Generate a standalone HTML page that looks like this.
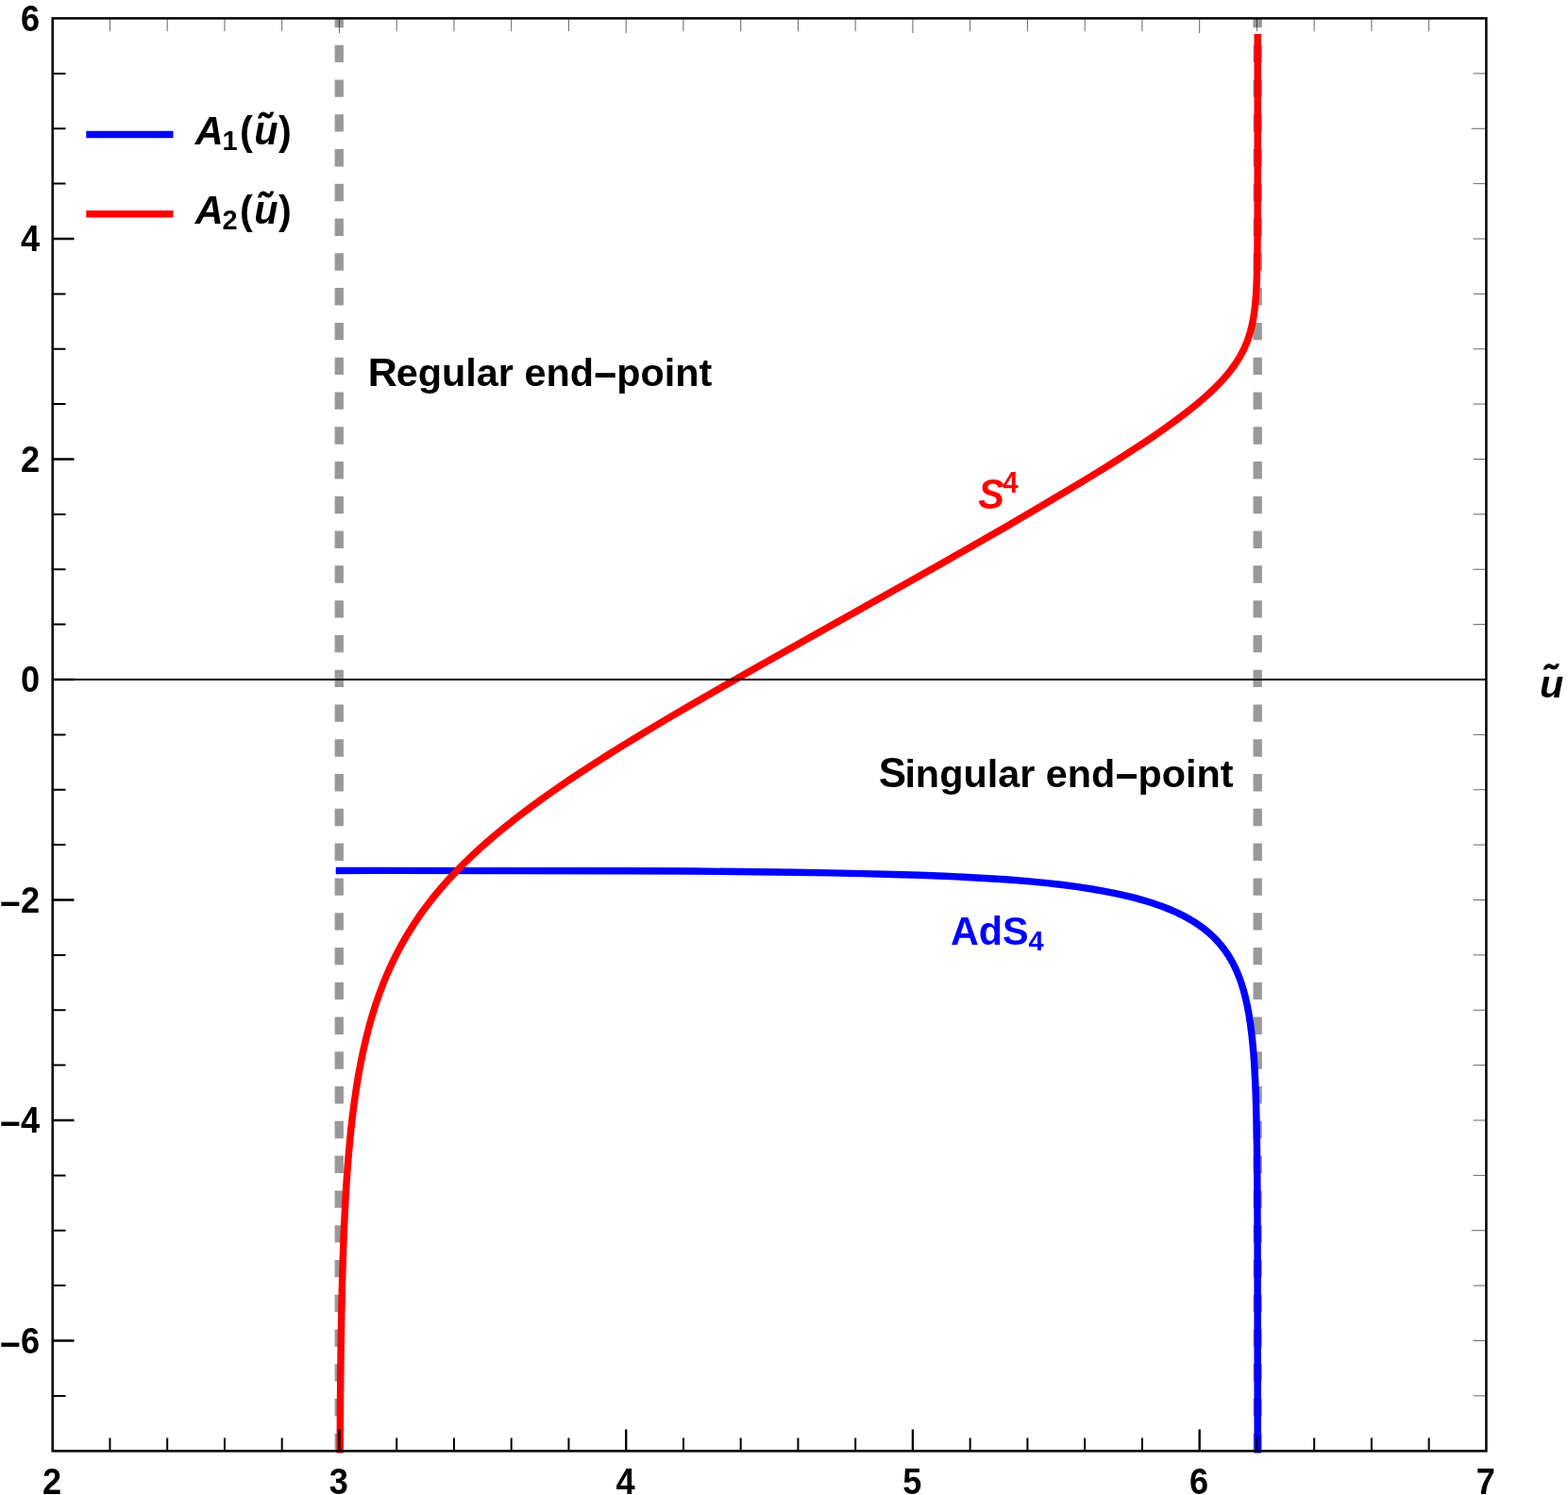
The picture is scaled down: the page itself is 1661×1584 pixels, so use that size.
<!DOCTYPE html>
<html lang="en"><head><meta charset="utf-8"><title>Warp factors A1 and A2</title>
<style>
html,body{margin:0;padding:0;background:#fff;width:1661px;height:1584px;overflow:hidden;}
svg{display:block;}
text{font-family:"Liberation Sans",sans-serif;font-weight:bold;}
.tk{font-size:36.2px;fill:#000;}
.lb{font-size:41.37px;}
.it{font-style:italic;}
</style></head><body>
<svg width="1661" height="1584" viewBox="0 0 1661 1584" role="img" aria-label="Plot of warp factors A1 and A2 versus u-tilde">
<rect x="0" y="0" width="1661" height="1584" fill="#fff"/>
<defs><clipPath id="cp"><rect x="55.7" y="19.4" width="1518.70" height="1520.00"/></clipPath></defs>
<g stroke="#999999" stroke-width="9.3" stroke-dasharray="18.39 18.39" fill="none">
<line x1="359.25" y1="1537.25" x2="359.25" y2="19.40"/>
<line x1="1332.20" y1="1537.25" x2="1332.20" y2="19.40"/>
</g>
<g clip-path="url(#cp)" fill="none" stroke-width="7.45" stroke-linejoin="round" stroke-linecap="square">
<path stroke="#0000ff" d="M359.44,922.53 L402.61,922.39 L506.12,922.62 L662.97,922.74 L732.85,923.07 L799.53,923.70 L840.29,924.24 L878.82,924.89 L914.31,925.62 L945.93,926.42 L974.16,927.30 L1000.32,928.29 L1024.57,929.41 L1047.05,930.66 L1067.89,932.05 L1087.89,933.65 L1106.38,935.40 L1123.47,937.29 L1139.81,939.40 L1155.36,941.74 L1170.12,944.30 L1184.06,947.10 L1190.57,948.55 L1197.18,950.13 L1203.12,951.65 L1209.14,953.30 L1214.88,954.98 L1220.67,956.80 L1226.17,958.66 L1231.40,960.55 L1236.37,962.47 L1241.36,964.54 L1246.08,966.64 L1250.56,968.78 L1254.80,970.94 L1259.03,973.26 L1263.03,975.61 L1267.00,978.11 L1270.39,980.40 L1273.60,982.72 L1276.65,985.07 L1279.68,987.57 L1282.56,990.10 L1285.27,992.65 L1287.96,995.36 L1290.49,998.10 L1292.88,1000.86 L1295.24,1003.79 L1297.46,1006.74 L1299.63,1009.85 L1301.67,1012.99 L1303.66,1016.30 L1305.52,1019.63 L1307.33,1023.13 L1309.02,1026.66 L1310.65,1030.35 L1312.23,1034.21 L1313.69,1038.10 L1315.09,1042.16 L1316.38,1046.24 L1317.66,1050.65 L1318.84,1055.07 L1321.01,1064.44 L1322.93,1074.51 L1324.60,1085.27 L1326.08,1097.02 L1327.18,1107.78 L1328.13,1119.36 L1328.95,1131.77 L1329.65,1145.31 L1330.25,1160.00 L1330.74,1176.29 L1331.14,1194.18 L1331.46,1214.32 L1331.86,1257.81 L1332.08,1316.36 L1332.17,1399.60 L1332.20,1560.00"/>
<path stroke="#ff0000" d="M359.99,1559.85 L360.52,1481.14 L360.88,1447.63 L361.31,1416.95 L361.82,1388.79 L362.42,1362.62 L363.11,1338.29 L363.90,1315.47 L364.81,1293.82 L365.84,1273.34 L366.99,1254.04 L368.28,1235.73 L369.70,1218.43 L371.27,1201.79 L372.99,1185.99 L374.87,1170.86 L376.99,1155.90 L379.31,1141.43 L381.85,1127.46 L384.56,1114.15 L387.48,1101.33 L390.65,1088.84 L394.04,1076.83 L397.68,1065.14 L401.58,1053.76 L405.74,1042.70 L410.18,1031.94 L414.88,1021.48 L419.84,1011.33 L425.15,1001.30 L430.73,991.55 L436.67,981.92 L439.93,976.91 L443.34,971.88 L446.76,967.00 L450.33,962.10 L454.04,957.18 L457.76,952.40 L461.62,947.61 L465.64,942.78 L474.00,933.22 L482.66,923.90 L491.97,914.43 L501.78,905.00 L512.11,895.58 L522.94,886.17 L534.55,876.55 L546.71,866.91 L559.43,857.22 L573.02,847.27 L587.20,837.24 L602.33,826.89 L615.51,818.12 L629.42,809.08 L644.07,799.76 L659.10,790.39 L674.91,780.70 L692.04,770.38 L710.09,759.66 L729.66,748.20 L763.95,728.41 L803.95,705.68 L844.43,682.89 L962.92,616.48 L999.39,595.90 L1032.26,577.20 L1067.15,557.16 L1098.64,538.82 L1126.96,522.06 L1152.86,506.43 L1166.43,498.08 L1178.98,490.25 L1190.97,482.64 L1202.02,475.49 L1212.55,468.54 L1222.53,461.80 L1231.68,455.46 L1240.33,449.31 L1248.47,443.33 L1256.10,437.53 L1263.23,431.91 L1270.04,426.30 L1276.18,421.01 L1281.99,415.74 L1287.33,410.62 L1292.22,405.65 L1296.47,401.03 L1300.45,396.40 L1304.14,391.77 L1307.47,387.23 L1310.53,382.68 L1313.37,378.02 L1315.93,373.36 L1318.26,368.60 L1320.33,363.82 L1322.17,358.93 L1323.82,353.86 L1325.28,348.60 L1326.55,343.15 L1327.66,337.37 L1328.61,331.24 L1329.42,324.71 L1329.97,319.17 L1330.44,313.26 L1331.17,300.04 L1331.66,284.20 L1331.96,264.10 L1332.11,241.90 L1332.17,210.15 L1332.20,39.70"/>
</g>
<line x1="55.7" y1="720.0" x2="1574.4" y2="720.0" stroke="#000" stroke-width="2.2"/>
<path d="M359.44,1537.4V1514.60M663.18,1537.4V1514.60M966.92,1537.4V1514.60M1270.66,1537.4V1514.60M55.7,1420.50H78.50M55.7,1187.00H78.50M55.7,953.50H78.50M55.7,720.00H78.50M55.7,486.50H78.50M55.7,253.00H78.50" stroke="#000" stroke-width="2.4" fill="none"/>
<path d="M116.45,1537.4V1523.60M177.20,1537.4V1523.60M237.94,1537.4V1523.60M298.69,1537.4V1523.60M420.19,1537.4V1523.60M480.94,1537.4V1523.60M541.68,1537.4V1523.60M602.43,1537.4V1523.60M723.93,1537.4V1523.60M784.68,1537.4V1523.60M845.42,1537.4V1523.60M906.17,1537.4V1523.60M1027.67,1537.4V1523.60M1088.42,1537.4V1523.60M1149.16,1537.4V1523.60M1209.91,1537.4V1523.60M1331.41,1537.4V1523.60M1392.16,1537.4V1523.60M1452.90,1537.4V1523.60M1513.65,1537.4V1523.60M55.7,1478.88H69.50M55.7,1362.12H69.50M55.7,1303.75H69.50M55.7,1245.38H69.50M55.7,1128.62H69.50M55.7,1070.25H69.50M55.7,1011.88H69.50M55.7,895.12H69.50M55.7,836.75H69.50M55.7,778.38H69.50M55.7,661.62H69.50M55.7,603.25H69.50M55.7,544.88H69.50M55.7,428.12H69.50M55.7,369.75H69.50M55.7,311.38H69.50M55.7,194.62H69.50M55.7,136.25H69.50M55.7,77.88H69.50" stroke="#000" stroke-width="2.0" fill="none"/>
<path d="M116.45,19.4V33.20M177.20,19.4V33.20M237.94,19.4V33.20M298.69,19.4V33.20M359.44,19.4V35.10M420.19,19.4V33.20M480.94,19.4V33.20M541.68,19.4V33.20M602.43,19.4V33.20M663.18,19.4V35.10M723.93,19.4V33.20M784.68,19.4V33.20M845.42,19.4V33.20M906.17,19.4V33.20M966.92,19.4V35.10M1027.67,19.4V33.20M1088.42,19.4V33.20M1149.16,19.4V33.20M1209.91,19.4V33.20M1270.66,19.4V35.10M1331.41,19.4V33.20M1392.16,19.4V33.20M1452.90,19.4V33.20M1513.65,19.4V33.20M1574.4,1478.88H1560.60M1574.4,1420.50H1560.60M1574.4,1362.12H1560.60M1574.4,1303.75H1558.70M1574.4,1245.38H1560.60M1574.4,1187.00H1560.60M1574.4,1128.62H1560.60M1574.4,1070.25H1560.60M1574.4,1011.88H1560.60M1574.4,953.50H1560.60M1574.4,895.12H1560.60M1574.4,836.75H1560.60M1574.4,778.38H1560.60M1574.4,720.00H1558.70M1574.4,661.62H1560.60M1574.4,603.25H1560.60M1574.4,544.88H1560.60M1574.4,486.50H1560.60M1574.4,428.12H1560.60M1574.4,369.75H1560.60M1574.4,311.38H1560.60M1574.4,253.00H1560.60M1574.4,194.62H1560.60M1574.4,136.25H1558.70M1574.4,77.88H1560.60" stroke="#000" stroke-width="0.6" fill="none"/>
<rect x="55.7" y="19.4" width="1518.70" height="1518.00" fill="none" stroke="#000" stroke-width="2.5"/>
<text class="tk" text-anchor="middle" transform="translate(0,1582.70) scale(1,1.05)"><tspan x="55.20" y="0.00">2</tspan></text>
<text class="tk" text-anchor="middle" transform="translate(0,1582.70) scale(1,1.05)"><tspan x="358.94" y="0.00">3</tspan></text>
<text class="tk" text-anchor="middle" transform="translate(0,1582.70) scale(1,1.05)"><tspan x="662.68" y="0.00">4</tspan></text>
<text class="tk" text-anchor="middle" transform="translate(0,1582.70) scale(1,1.05)"><tspan x="966.42" y="0.00">5</tspan></text>
<text class="tk" text-anchor="middle" transform="translate(0,1582.70) scale(1,1.05)"><tspan x="1270.16" y="0.00">6</tspan></text>
<text class="tk" text-anchor="middle" transform="translate(0,1582.70) scale(1,1.05)"><tspan x="1573.90" y="0.00">7</tspan></text>
<text class="tk" transform="translate(0,32.80) scale(1,1.05)"><tspan x="21.97" y="0.00">6</tspan></text>
<text class="tk" transform="translate(0,266.30) scale(1,1.05)"><tspan x="21.97" y="0.00">4</tspan></text>
<text class="tk" transform="translate(0,499.80) scale(1,1.05)"><tspan x="21.97" y="0.00">2</tspan></text>
<text class="tk" transform="translate(0,733.30) scale(1,1.05)"><tspan x="21.97" y="0.00">0</tspan></text>
<text class="tk" transform="translate(0,966.80) scale(1,1.05)"><tspan x="-0.60" y="3.62" font-size="38.0">−</tspan><tspan x="21.97" y="0.00">2</tspan></text>
<text class="tk" transform="translate(0,1200.30) scale(1,1.05)"><tspan x="-0.60" y="3.62" font-size="38.0">−</tspan><tspan x="21.97" y="0.00">4</tspan></text>
<text class="tk" transform="translate(0,1433.80) scale(1,1.05)"><tspan x="-0.60" y="3.62" font-size="38.0">−</tspan><tspan x="21.97" y="0.00">6</tspan></text>
<text class="lb"><tspan x="1630.90" y="738.90" class="it">u</tspan><tspan x="1655.14" y="742.16" font-size="42.4" class="it" stroke="#000" stroke-width="0.9">̃</tspan></text>
<path d="M91.3,142.4H183.5" stroke="#0000ff" stroke-width="7.45" fill="none"/>
<path d="M91.3,226.7H183.5" stroke="#ff0000" stroke-width="7.45" fill="none"/>
<text class="lb" transform="translate(0,152.70) scale(1,1.047)"><tspan x="206.70" y="0.00" class="it">A</tspan><tspan x="235.40" y="5.83" font-size="29.0">1</tspan><tspan x="253.90" y="0.00">(</tspan><tspan x="269.20" y="0.00" class="it">u</tspan><tspan x="293.44" y="6.03" font-size="42.4" class="it" stroke="#000" stroke-width="0.9">̃</tspan><tspan x="294.90" y="0.00">)</tspan></text>
<text class="lb" transform="translate(0,237.00) scale(1,1.047)"><tspan x="206.70" y="0.00" class="it">A</tspan><tspan x="235.40" y="5.83" font-size="29.0">2</tspan><tspan x="253.90" y="0.00">(</tspan><tspan x="269.20" y="0.00" class="it">u</tspan><tspan x="293.44" y="6.03" font-size="42.4" class="it" stroke="#000" stroke-width="0.9">̃</tspan><tspan x="294.90" y="0.00">)</tspan></text>
<text class="lb" fill="#000"><tspan x="389.85" y="408.60" font-size="43.0">R</tspan><tspan x="419.82" y="408.60">egular end</tspan><tspan x="627.53" y="408.10" textLength="27.6" lengthAdjust="spacingAndGlyphs">-</tspan><tspan x="653.19" y="408.60">point</tspan></text>
<text class="lb" fill="#000"><tspan x="930.70" y="833.90" font-size="43.9">S</tspan><tspan x="958.39" y="833.90">ingular end</tspan><tspan x="1179.88" y="833.40" textLength="27.6" lengthAdjust="spacingAndGlyphs">-</tspan><tspan x="1205.54" y="833.90">point</tspan></text>
<text class="lb" fill="#ff0000" transform="translate(0,538.85) scale(1,1.06)"><tspan x="1036.35" y="0.00" class="it">S</tspan><tspan x="1062.30" y="-15.99" font-size="29.4">4</tspan></text>
<text class="lb" fill="#0000ff" transform="translate(0,1000.80) scale(1,1.047)"><tspan x="1007.00" y="0.00">AdS</tspan><tspan x="1089.40" y="5.83" font-size="29.0">4</tspan></text>
</svg>
</body></html>
